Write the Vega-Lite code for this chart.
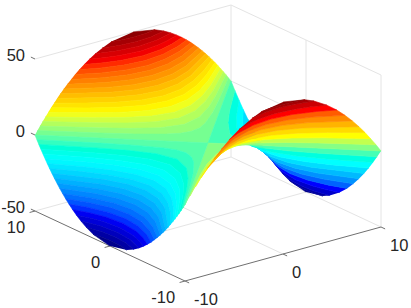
{"$schema":"https://vega.github.io/schema/vega-lite/v6.json","width":411,"height":308,"padding":0,"autosize":"none","background":"white","config":{"view":{"stroke":null}},
"datasets":{
"edges":[
{"k":"g","x":-10,"y":10,"z":-50,"x2":10,"y2":10,"z2":-50},
{"k":"g","x":10,"y":10,"z":-50,"x2":10,"y2":-10,"z2":-50},
{"k":"g","x":0,"y":10,"z":-50,"x2":0,"y2":-10,"z2":-50},
{"k":"g","x":-10,"y":0,"z":-50,"x2":10,"y2":0,"z2":-50},
{"k":"g","x":-10,"y":10,"z":50,"x2":10,"y2":10,"z2":50},
{"k":"g","x":-10,"y":10,"z":0,"x2":10,"y2":10,"z2":0},
{"k":"g","x":0,"y":10,"z":-50,"x2":0,"y2":10,"z2":50},
{"k":"g","x":10,"y":10,"z":-50,"x2":10,"y2":10,"z2":50},
{"k":"g","x":10,"y":10,"z":50,"x2":10,"y2":-10,"z2":50},
{"k":"g","x":10,"y":10,"z":0,"x2":10,"y2":-10,"z2":0},
{"k":"g","x":10,"y":0,"z":-50,"x2":10,"y2":0,"z2":50},
{"k":"g","x":10,"y":-10,"z":-50,"x2":10,"y2":-10,"z2":50},
{"k":"a","x":-10,"y":10,"z":-50,"x2":-10,"y2":-10,"z2":-50},
{"k":"a","x":-10,"y":-10,"z":-50,"x2":10,"y2":-10,"z2":-50},
{"k":"a","x":-10,"y":10,"z":50,"x2":-10,"y2":10.55,"z2":50},
{"k":"a","x":-10,"y":10,"z":0,"x2":-10,"y2":10.55,"z2":0},
{"k":"a","x":-10,"y":10,"z":-50,"x2":-10,"y2":10.55,"z2":-50},
{"k":"a","x":-10,"y":10,"z":-50,"x2":-10.55,"y2":10,"z2":-50},
{"k":"a","x":-10,"y":0,"z":-50,"x2":-10.55,"y2":0,"z2":-50},
{"k":"a","x":-10,"y":-10,"z":-50,"x2":-10.55,"y2":-10,"z2":-50},
{"k":"a","x":-10,"y":-10,"z":-50,"x2":-10,"y2":-10.55,"z2":-50},
{"k":"a","x":0,"y":-10,"z":-50,"x2":0,"y2":-10.55,"z2":-50},
{"k":"a","x":10,"y":-10,"z":-50,"x2":10,"y2":-10.55,"z2":-50}
],
"labels":[
{"t":"50","x":-10,"y":11.33,"z":50,"a":"z"},
{"t":"0","x":-10,"y":11.33,"z":0,"a":"z"},
{"t":"-50","x":-10,"y":11.33,"z":-50,"a":"z"},
{"t":"10","x":-11,"y":10,"z":-58,"a":"y"},
{"t":"0","x":-11,"y":0,"z":-58,"a":"y"},
{"t":"-10","x":-11,"y":-10,"z":-58,"a":"y"},
{"t":"-10","x":-10,"y":-11.2,"z":-58.5,"a":"x"},
{"t":"0","x":0,"y":-11.2,"z":-58.5,"a":"x"},
{"t":"10","x":10,"y":-11.2,"z":-58.5,"a":"x"}
],
"surface":[
{"id":"a01","c":48.75,"n":1,"h":50,"l":47.5,"x":[0,2.24,1.2,0,-1.2,-2.24],"y":[10,10,9.82,9.75,9.82,10]},
{"id":"a02","c":46.25,"n":5,"h":47.5,"l":45,"x":[-2.24,-1.2,0,1.2,2.24,3.16,1.5,0,-1.5,-3.16],"y":[10,9.82,9.75,9.82,10,10,9.6,9.49,9.6,10]},
{"id":"a03","c":43.75,"n":5,"h":45,"l":42.5,"x":[-3.16,-1.5,0,1.5,3.16,3.87,2,0,-2,-3.87],"y":[10,9.6,9.49,9.6,10,10,9.43,9.22,9.43,10]},
{"id":"a04","c":41.25,"n":5,"h":42.5,"l":40,"x":[-3.87,-2,0,2,3.87,4.47,3.2,2,0,-2,-3.2,-4.47],"y":[10,9.43,9.22,9.43,10,10,9.5,9.17,8.94,9.17,9.5,10]},
{"id":"a05","c":38.75,"n":7,"h":40,"l":37.5,"x":[-4.47,-3.2,-2,0,2,3.2,4.47,5,3.5,2,0,-2,-3.5,-5],"y":[10,9.5,9.17,8.94,9.17,9.5,10,10,9.34,8.89,8.66,8.89,9.34,10]},
{"id":"a06","c":36.25,"n":7,"h":37.5,"l":35,"x":[-5,-3.5,-2,0,2,3.5,5,5.48,4,2,0,-2,-4,-5.48],"y":[10,9.34,8.89,8.66,8.89,9.34,10,10,9.27,8.6,8.37,8.6,9.27,10]},
{"id":"a07","c":33.75,"n":7,"h":35,"l":32.5,"x":[-5.48,-4,-2,0,2,4,5.48,5.92,4,2,0,-2,-4,-5.92],"y":[10,9.27,8.6,8.37,8.6,9.27,10,10,9,8.31,8.06,8.31,9,10]},
{"id":"a08","c":31.25,"n":7,"h":32.5,"l":30,"x":[-5.92,-4,-2,0,2,4,5.92,6.32,4,2,0,-2,-4,-6.32],"y":[10,9,8.31,8.06,8.31,9,10,10,8.72,8,7.75,8,8.72,10]},
{"id":"a09","c":28.75,"n":7,"h":30,"l":27.5,"x":[-6.32,-4,-2,0,2,4,6.32,6.71,4,2,0,-2,-4,-6.71],"y":[10,8.72,8,7.75,8,8.72,10,10,8.43,7.68,7.42,7.68,8.43,10]},
{"id":"a10","c":26.25,"n":7,"h":27.5,"l":25,"x":[-6.71,-4,-2,0,2,4,6.71,7.07,4,2,0,-2,-4,-7.07],"y":[10,8.43,7.68,7.42,7.68,8.43,10,10,8.12,7.35,7.07,7.35,8.12,10]},
{"id":"a11","c":23.75,"n":7,"h":25,"l":22.5,"x":[-7.07,-4,-2,0,2,4,7.07,7.42,4,2,0,-2,-4,-7.42],"y":[10,8.12,7.35,7.07,7.35,8.12,10,10,7.81,7,6.71,7,7.81,10]},
{"id":"a12","c":21.25,"n":7,"h":22.5,"l":20,"x":[-7.42,-4,-2,0,2,4,7.42,7.75,4,2,0,-2,-4,-7.75],"y":[10,7.81,7,6.71,7,7.81,10,10,7.48,6.63,6.32,6.63,7.48,10]},
{"id":"a13","c":18.75,"n":7,"h":20,"l":17.5,"x":[-7.75,-4,-2,0,2,4,7.75,8.06,6,4,2,0,-2,-4,-6,-8.06],"y":[10,7.48,6.63,6.32,6.63,7.48,10,10,8.43,7.14,6.24,5.92,6.24,7.14,8.43,10]},
{"id":"a14","c":16.25,"n":9,"h":17.5,"l":15,"x":[-8.06,-6,-4,-2,0,2,4,6,8.06,8.37,6,4,2,0,-2,-4,-6,-8.37],"y":[10,8.43,7.14,6.24,5.92,6.24,7.14,8.43,10,10,8.12,6.78,5.83,5.48,5.83,6.78,8.12,10]},
{"id":"a15","c":13.75,"n":9,"h":15,"l":12.5,"x":[-8.37,-6,-4,-2,0,2,4,6,8.37,8.66,6,4,2,0,-2,-4,-6,-8.66],"y":[10,8.12,6.78,5.83,5.48,5.83,6.78,8.12,10,10,7.81,6.4,5.39,5,5.39,6.4,7.81,10]},
{"id":"a16","c":11.25,"n":9,"h":12.5,"l":10,"x":[-8.66,-6,-4,-2,0,2,4,6,8.66,8.94,6,4,2,0,-2,-4,-6,-8.94],"y":[10,7.81,6.4,5.39,5,5.39,6.4,7.81,10,10,7.48,6,4.9,4.47,4.9,6,7.48,10]},
{"id":"a17","c":8.75,"n":9,"h":10,"l":7.5,"x":[-8.94,-6,-4,-2,0,2,4,6,8.94,9.22,6,4,2,0,-2,-4,-6,-9.22],"y":[10,7.48,6,4.9,4.47,4.9,6,7.48,10,10,7.14,5.57,4.36,3.87,4.36,5.57,7.14,10]},
{"id":"a18","c":6.25,"n":9,"h":7.5,"l":5,"x":[-9.22,-6,-4,-2,0,2,4,6,9.22,9.49,6,4,2,0,-2,-4,-6,-9.49],"y":[10,7.14,5.57,4.36,3.87,4.36,5.57,7.14,10,10,6.78,5.1,3.74,3.16,3.74,5.1,6.78,10]},
{"id":"a19","c":3.75,"n":9,"h":5,"l":2.5,"x":[-9.49,-6,-4,-2,0,2,4,6,9.49,9.75,6,4,2,1,0,-1,-2,-4,-6,-9.75],"y":[10,6.78,5.1,3.74,3.16,3.74,5.1,6.78,10,10,6.4,4.58,3,2.45,2.24,2.45,3,4.58,6.4,10]},
{"id":"a20","c":1.25,"n":11,"h":2.5,"l":0,"x":[-9.75,-6,-4,-2,-1,0,1,2,4,6,9.75,10,0,-10],"y":[10,6.4,4.58,3,2.45,2.24,2.45,3,4.58,6.4,10,10,0,10]},

{"id":"b01","c":-48.75,"n":1,"h":-50,"l":-47.5,"y":[0,2.24,1.2,0,-1.2,-2.24],"x":[10,10,9.82,9.75,9.82,10]},
{"id":"b02","c":-46.25,"n":5,"h":-47.5,"l":-45,"y":[-2.24,-1.2,0,1.2,2.24,3.16,1.5,0,-1.5,-3.16],"x":[10,9.82,9.75,9.82,10,10,9.6,9.49,9.6,10]},
{"id":"b03","c":-42.5,"n":5,"h":-45,"l":-40,"y":[-3.16,-1.5,0,1.5,3.16,4.47,3.2,2,0,-2,-3.2,-4.47],"x":[10,9.6,9.49,9.6,10,10,9.5,9.17,8.94,9.17,9.5,10]},
{"id":"b04","c":-37.5,"n":7,"h":-40,"l":-35,"y":[-4.47,-3.2,-2,0,2,3.2,4.47,5.48,4,2,0,-2,-4,-5.48],"x":[10,9.5,9.17,8.94,9.17,9.5,10,10,9.27,8.6,8.37,8.6,9.27,10]},
{"id":"b05","c":-32.5,"n":7,"h":-35,"l":-30,"y":[-5.48,-4,-2,0,2,4,5.48,6.32,4,2,0,-2,-4,-6.32],"x":[10,9.27,8.6,8.37,8.6,9.27,10,10,8.72,8,7.75,8,8.72,10]},
{"id":"b06","c":-27.5,"n":7,"h":-30,"l":-25,"y":[-6.32,-4,-2,0,2,4,6.32,7.07,4,2,0,-2,-4,-7.07],"x":[10,8.72,8,7.75,8,8.72,10,10,8.12,7.35,7.07,7.35,8.12,10]},
{"id":"b07","c":-22.5,"n":7,"h":-25,"l":-20,"y":[-7.07,-4,-2,0,2,4,7.07,7.75,4,2,0,-2,-4,-7.75],"x":[10,8.12,7.35,7.07,7.35,8.12,10,10,7.48,6.63,6.32,6.63,7.48,10]},
{"id":"b08","c":-17.5,"n":7,"h":-20,"l":-15,"y":[-7.75,-4,-2,0,2,4,7.75,8.37,6,4,2,0,-2,-4,-6,-8.37],"x":[10,7.48,6.63,6.32,6.63,7.48,10,10,8.12,6.78,5.83,5.48,5.83,6.78,8.12,10]},
{"id":"b09","c":-12.5,"n":9,"h":-15,"l":-10,"y":[-8.37,-6,-4,-2,0,2,4,6,8.37,8.94,6,4,2,0,-2,-4,-6,-8.94],"x":[10,8.12,6.78,5.83,5.48,5.83,6.78,8.12,10,10,7.48,6,4.9,4.47,4.9,6,7.48,10]},
{"id":"b10","c":-7.5,"n":9,"h":-10,"l":-5,"y":[-8.94,-6,-4,-2,0,2,4,6,8.94,9.49,6,4,2,0,-2,-4,-6,-9.49],"x":[10,7.48,6,4.9,4.47,4.9,6,7.48,10,10,6.78,5.1,3.74,3.16,3.74,5.1,6.78,10]},
{"id":"b11","c":-2.5,"n":9,"h":-5,"l":0,"y":[-9.49,-6,-4,-2,0,2,4,6,9.49,10,0,-10],"x":[10,6.78,5.1,3.74,3.16,3.74,5.1,6.78,10,10,0,10]},

{"id":"c11","c":2.5,"n":9,"h":5,"l":0,"x":[-9.49,-6,-4,-2,0,2,4,6,9.49,10,0,-10],"y":[-10,-6.78,-5.1,-3.74,-3.16,-3.74,-5.1,-6.78,-10,-10,0,-10]},
{"id":"c10","c":7.5,"n":9,"h":10,"l":5,"x":[-8.94,-6,-4,-2,0,2,4,6,8.94,9.49,6,4,2,0,-2,-4,-6,-9.49],"y":[-10,-7.48,-6,-4.9,-4.47,-4.9,-6,-7.48,-10,-10,-6.78,-5.1,-3.74,-3.16,-3.74,-5.1,-6.78,-10]},
{"id":"c09","c":12.5,"n":9,"h":15,"l":10,"x":[-8.37,-6,-4,-2,0,2,4,6,8.37,8.94,6,4,2,0,-2,-4,-6,-8.94],"y":[-10,-8.12,-6.78,-5.83,-5.48,-5.83,-6.78,-8.12,-10,-10,-7.48,-6,-4.9,-4.47,-4.9,-6,-7.48,-10]},
{"id":"c08","c":17.5,"n":7,"h":20,"l":15,"x":[-7.75,-4,-2,0,2,4,7.75,8.37,6,4,2,0,-2,-4,-6,-8.37],"y":[-10,-7.48,-6.63,-6.32,-6.63,-7.48,-10,-10,-8.12,-6.78,-5.83,-5.48,-5.83,-6.78,-8.12,-10]},
{"id":"c07","c":22.5,"n":7,"h":25,"l":20,"x":[-7.07,-4,-2,0,2,4,7.07,7.75,4,2,0,-2,-4,-7.75],"y":[-10,-8.12,-7.35,-7.07,-7.35,-8.12,-10,-10,-7.48,-6.63,-6.32,-6.63,-7.48,-10]},
{"id":"c06","c":27.5,"n":7,"h":30,"l":25,"x":[-6.32,-4,-2,0,2,4,6.32,7.07,4,2,0,-2,-4,-7.07],"y":[-10,-8.72,-8,-7.75,-8,-8.72,-10,-10,-8.12,-7.35,-7.07,-7.35,-8.12,-10]},
{"id":"c05","c":32.5,"n":7,"h":35,"l":30,"x":[-5.48,-4,-2,0,2,4,5.48,6.32,4,2,0,-2,-4,-6.32],"y":[-10,-9.27,-8.6,-8.37,-8.6,-9.27,-10,-10,-8.72,-8,-7.75,-8,-8.72,-10]},
{"id":"c04","c":37.5,"n":7,"h":40,"l":35,"x":[-4.47,-3.2,-2,0,2,3.2,4.47,5.48,4,2,0,-2,-4,-5.48],"y":[-10,-9.5,-9.17,-8.94,-9.17,-9.5,-10,-10,-9.27,-8.6,-8.37,-8.6,-9.27,-10]},
{"id":"c03","c":42.5,"n":5,"h":45,"l":40,"x":[-3.16,-1.5,0,1.5,3.16,4.47,3.2,2,0,-2,-3.2,-4.47],"y":[-10,-9.6,-9.49,-9.6,-10,-10,-9.5,-9.17,-8.94,-9.17,-9.5,-10]},
{"id":"c02","c":46.25,"n":5,"h":47.5,"l":45,"x":[-2.24,-1.2,0,1.2,2.24,3.16,1.5,0,-1.5,-3.16],"y":[-10,-9.82,-9.75,-9.82,-10,-10,-9.6,-9.49,-9.6,-10]},
{"id":"c01","c":48.75,"n":1,"h":50,"l":47.5,"x":[0,2.24,1.2,0,-1.2,-2.24],"y":[-10,-10,-9.82,-9.75,-9.82,-10]},

{"id":"d20","c":-1.25,"n":11,"h":-2.5,"l":0,"y":[-9.75,-6,-4,-2,-1,0,1,2,4,6,9.75,10,0,-10],"x":[-10,-6.4,-4.58,-3,-2.45,-2.24,-2.45,-3,-4.58,-6.4,-10,-10,0,-10]},
{"id":"d19","c":-3.75,"n":9,"h":-5,"l":-2.5,"y":[-9.49,-6,-4,-2,0,2,4,6,9.49,9.75,6,4,2,1,0,-1,-2,-4,-6,-9.75],"x":[-10,-6.78,-5.1,-3.74,-3.16,-3.74,-5.1,-6.78,-10,-10,-6.4,-4.58,-3,-2.45,-2.24,-2.45,-3,-4.58,-6.4,-10]},
{"id":"d18","c":-6.25,"n":9,"h":-7.5,"l":-5,"y":[-9.22,-6,-4,-2,0,2,4,6,9.22,9.49,6,4,2,0,-2,-4,-6,-9.49],"x":[-10,-7.14,-5.57,-4.36,-3.87,-4.36,-5.57,-7.14,-10,-10,-6.78,-5.1,-3.74,-3.16,-3.74,-5.1,-6.78,-10]},
{"id":"d17","c":-8.75,"n":9,"h":-10,"l":-7.5,"y":[-8.94,-6,-4,-2,0,2,4,6,8.94,9.22,6,4,2,0,-2,-4,-6,-9.22],"x":[-10,-7.48,-6,-4.9,-4.47,-4.9,-6,-7.48,-10,-10,-7.14,-5.57,-4.36,-3.87,-4.36,-5.57,-7.14,-10]},
{"id":"d16","c":-11.25,"n":9,"h":-12.5,"l":-10,"y":[-8.66,-6,-4,-2,0,2,4,6,8.66,8.94,6,4,2,0,-2,-4,-6,-8.94],"x":[-10,-7.81,-6.4,-5.39,-5,-5.39,-6.4,-7.81,-10,-10,-7.48,-6,-4.9,-4.47,-4.9,-6,-7.48,-10]},
{"id":"d15","c":-13.75,"n":9,"h":-15,"l":-12.5,"y":[-8.37,-6,-4,-2,0,2,4,6,8.37,8.66,6,4,2,0,-2,-4,-6,-8.66],"x":[-10,-8.12,-6.78,-5.83,-5.48,-5.83,-6.78,-8.12,-10,-10,-7.81,-6.4,-5.39,-5,-5.39,-6.4,-7.81,-10]},
{"id":"d14","c":-16.25,"n":9,"h":-17.5,"l":-15,"y":[-8.06,-6,-4,-2,0,2,4,6,8.06,8.37,6,4,2,0,-2,-4,-6,-8.37],"x":[-10,-8.43,-7.14,-6.24,-5.92,-6.24,-7.14,-8.43,-10,-10,-8.12,-6.78,-5.83,-5.48,-5.83,-6.78,-8.12,-10]},
{"id":"d13","c":-18.75,"n":7,"h":-20,"l":-17.5,"y":[-7.75,-4,-2,0,2,4,7.75,8.06,6,4,2,0,-2,-4,-6,-8.06],"x":[-10,-7.48,-6.63,-6.32,-6.63,-7.48,-10,-10,-8.43,-7.14,-6.24,-5.92,-6.24,-7.14,-8.43,-10]},
{"id":"d12","c":-21.25,"n":7,"h":-22.5,"l":-20,"y":[-7.42,-4,-2,0,2,4,7.42,7.75,4,2,0,-2,-4,-7.75],"x":[-10,-7.81,-7,-6.71,-7,-7.81,-10,-10,-7.48,-6.63,-6.32,-6.63,-7.48,-10]},
{"id":"d11","c":-23.75,"n":7,"h":-25,"l":-22.5,"y":[-7.07,-4,-2,0,2,4,7.07,7.42,4,2,0,-2,-4,-7.42],"x":[-10,-8.12,-7.35,-7.07,-7.35,-8.12,-10,-10,-7.81,-7,-6.71,-7,-7.81,-10]},
{"id":"d10","c":-26.25,"n":7,"h":-27.5,"l":-25,"y":[-6.71,-4,-2,0,2,4,6.71,7.07,4,2,0,-2,-4,-7.07],"x":[-10,-8.43,-7.68,-7.42,-7.68,-8.43,-10,-10,-8.12,-7.35,-7.07,-7.35,-8.12,-10]},
{"id":"d09","c":-28.75,"n":7,"h":-30,"l":-27.5,"y":[-6.32,-4,-2,0,2,4,6.32,6.71,4,2,0,-2,-4,-6.71],"x":[-10,-8.72,-8,-7.75,-8,-8.72,-10,-10,-8.43,-7.68,-7.42,-7.68,-8.43,-10]},
{"id":"d08","c":-31.25,"n":7,"h":-32.5,"l":-30,"y":[-5.92,-4,-2,0,2,4,5.92,6.32,4,2,0,-2,-4,-6.32],"x":[-10,-9,-8.31,-8.06,-8.31,-9,-10,-10,-8.72,-8,-7.75,-8,-8.72,-10]},
{"id":"d07","c":-33.75,"n":7,"h":-35,"l":-32.5,"y":[-5.48,-4,-2,0,2,4,5.48,5.92,4,2,0,-2,-4,-5.92],"x":[-10,-9.27,-8.6,-8.37,-8.6,-9.27,-10,-10,-9,-8.31,-8.06,-8.31,-9,-10]},
{"id":"d06","c":-36.25,"n":7,"h":-37.5,"l":-35,"y":[-5,-3.5,-2,0,2,3.5,5,5.48,4,2,0,-2,-4,-5.48],"x":[-10,-9.34,-8.89,-8.66,-8.89,-9.34,-10,-10,-9.27,-8.6,-8.37,-8.6,-9.27,-10]},
{"id":"d05","c":-38.75,"n":7,"h":-40,"l":-37.5,"y":[-4.47,-3.2,-2,0,2,3.2,4.47,5,3.5,2,0,-2,-3.5,-5],"x":[-10,-9.5,-9.17,-8.94,-9.17,-9.5,-10,-10,-9.34,-8.89,-8.66,-8.89,-9.34,-10]},
{"id":"d04","c":-41.25,"n":5,"h":-42.5,"l":-40,"y":[-3.87,-2,0,2,3.87,4.47,3.2,2,0,-2,-3.2,-4.47],"x":[-10,-9.43,-9.22,-9.43,-10,-10,-9.5,-9.17,-8.94,-9.17,-9.5,-10]},
{"id":"d03","c":-43.75,"n":5,"h":-45,"l":-42.5,"y":[-3.16,-1.5,0,1.5,3.16,3.87,2,0,-2,-3.87],"x":[-10,-9.6,-9.49,-9.6,-10,-10,-9.43,-9.22,-9.43,-10]},
{"id":"d02","c":-46.25,"n":5,"h":-47.5,"l":-45,"y":[-2.24,-1.2,0,1.2,2.24,3.16,1.5,0,-1.5,-3.16],"x":[-10,-9.82,-9.75,-9.82,-10,-10,-9.6,-9.49,-9.6,-10]},
{"id":"d01","c":-48.75,"n":1,"h":-50,"l":-47.5,"y":[0,2.24,1.2,0,-1.2,-2.24],"x":[-10,-10,-9.82,-9.75,-9.82,-10]}
]},
"layer":[
{"data":{"name":"edges"},"transform":[{"filter":"datum.k=='g'"},{"calculate":"208+9.8*datum.x-7.5*datum.y","as":"sx"},{"calculate":"143-2.7*datum.x-3.5*datum.y-1.52*datum.z","as":"sy"},{"calculate":"208+9.8*datum.x2-7.5*datum.y2","as":"sx2"},{"calculate":"143-2.7*datum.x2-3.5*datum.y2-1.52*datum.z2","as":"sy2"}],
"mark":{"type":"rule","stroke":"#e4e4e4","strokeWidth":1},
"encoding":{"x":{"field":"sx","type":"quantitative","scale":{"domain":[0,411]},"axis":null},"y":{"field":"sy","type":"quantitative","scale":{"domain":[308,0]},"axis":null},"x2":{"field":"sx2"},"y2":{"field":"sy2"}}},
{"data":{"name":"edges"},"transform":[{"filter":"datum.k=='a'"},{"calculate":"208+9.8*datum.x-7.5*datum.y","as":"sx"},{"calculate":"143-2.7*datum.x-3.5*datum.y-1.52*datum.z","as":"sy"},{"calculate":"208+9.8*datum.x2-7.5*datum.y2","as":"sx2"},{"calculate":"143-2.7*datum.x2-3.5*datum.y2-1.52*datum.z2","as":"sy2"}],
"mark":{"type":"rule","stroke":"#707070","strokeWidth":1},
"encoding":{"x":{"field":"sx","type":"quantitative","scale":{"domain":[0,411]},"axis":null},"y":{"field":"sy","type":"quantitative","scale":{"domain":[308,0]},"axis":null},"x2":{"field":"sx2"},"y2":{"field":"sy2"}}},
{"data":{"name":"surface"},"transform":[{"flatten":["x","y"]},{"window":[{"op":"row_number","as":"i"}],"groupby":["id"]},{"calculate":"datum.i<=datum.n?datum.h:datum.l","as":"z"},{"calculate":"208+9.8*datum.x-7.5*datum.y","as":"sx"},{"calculate":"143-2.7*datum.x-3.5*datum.y-1.52*datum.z","as":"sy"}],
"mark":{"type":"line","strokeWidth":0.6,"strokeJoin":"round"},
"encoding":{"x":{"field":"sx","type":"quantitative","scale":{"domain":[0,411]},"axis":null},"y":{"field":"sy","type":"quantitative","scale":{"domain":[308,0]},"axis":null},"detail":{"field":"id"},"order":{"value":null},
"fill":{"field":"c","type":"quantitative","scale":{"domain":[-50,-37.5,-12.5,12.5,37.5,50],"range":["#000080","#0000ff","#00ffff","#ffff00","#ff0000","#800000"]},"legend":null},
"stroke":{"field":"c","type":"quantitative","scale":{"domain":[-50,-37.5,-12.5,12.5,37.5,50],"range":["#000080","#0000ff","#00ffff","#ffff00","#ff0000","#800000"]},"legend":null}}},
{"data":{"name":"labels"},"transform":[{"calculate":"208+9.8*datum.x-7.5*datum.y","as":"sx"},{"calculate":"143-2.7*datum.x-3.5*datum.y-1.52*datum.z","as":"sy"},{"filter":"datum.a!='x'"}],
"mark":{"type":"text","font":"Liberation Sans","fontSize":16.5,"fill":"#262626","align":"right","baseline":"middle","dy":2},
"encoding":{"x":{"field":"sx","type":"quantitative","scale":{"domain":[0,411]},"axis":null},"y":{"field":"sy","type":"quantitative","scale":{"domain":[308,0]},"axis":null},"text":{"field":"t"}}},
{"data":{"name":"labels"},"transform":[{"calculate":"208+9.8*datum.x-7.5*datum.y","as":"sx"},{"calculate":"143-2.7*datum.x-3.5*datum.y-1.52*datum.z","as":"sy"},{"filter":"datum.a=='x'"}],
"mark":{"type":"text","font":"Liberation Sans","fontSize":16.5,"fill":"#262626","align":"left","baseline":"middle","dy":2},
"encoding":{"x":{"field":"sx","type":"quantitative","scale":{"domain":[0,411]},"axis":null},"y":{"field":"sy","type":"quantitative","scale":{"domain":[308,0]},"axis":null},"text":{"field":"t"}}}
]}
